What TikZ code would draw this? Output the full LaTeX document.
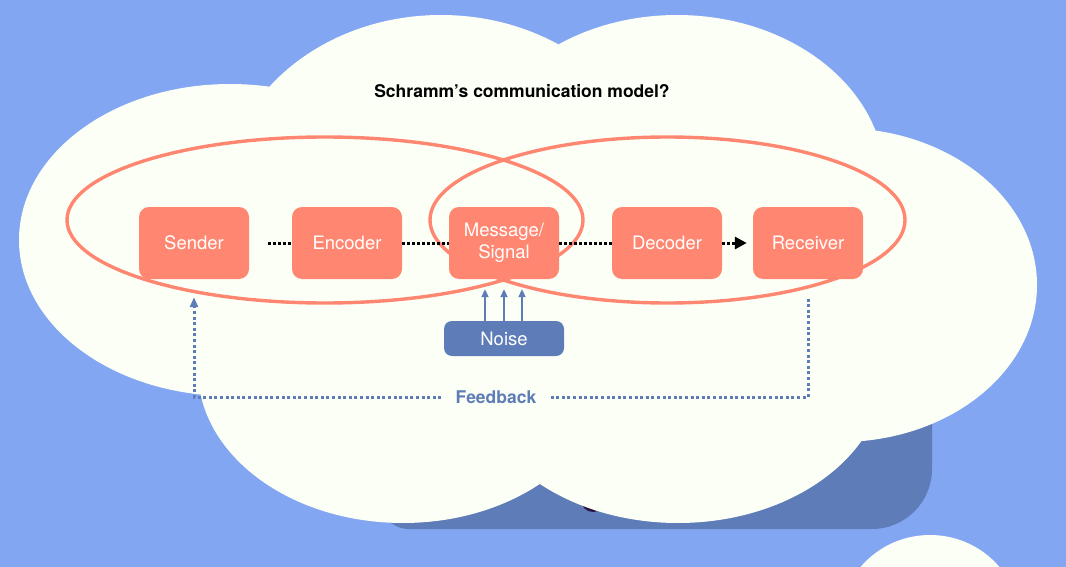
\documentclass[tikz,border=0pt]{standalone}
\usepackage{fontspec}
\setmainfont{TeX Gyre Heros}
\usetikzlibrary{calc,arrows.meta}
\definecolor{bg}{HTML}{82A6F2}
\definecolor{cloudc}{HTML}{FCFFF6}
\definecolor{salmon}{HTML}{FF8670}
\definecolor{navy}{HTML}{5E7CB7}
\definecolor{blobc}{HTML}{2B1442}
\begin{document}
\begin{tikzpicture}[x=1pt,y=-1pt,
  box/.style={fill=salmon, rounded corners=10pt, minimum width=110pt, minimum height=72pt, inner sep=0pt, text=white, font=\fontsize{18.5}{22}\selectfont, align=center},
  noisebox/.style={fill=navy, rounded corners=8pt, minimum width=120pt, minimum height=35pt, inner sep=0pt, text=white, font=\fontsize{18.5}{22}\selectfont},
  flow/.style={line width=3pt, dash pattern=on 3pt off 2pt, black},
  fbline/.style={line width=3pt, dash pattern=on 3pt off 2.6pt, navy},
  noisearrow/.style={line width=2pt, navy, -{Triangle[length=8pt,width=7pt]}},
  ring/.style={draw=salmon, line width=3.4pt}
]
\useasboundingbox (0,0) rectangle (1066,567);
\clip (0,0) rectangle (1066,567);
\fill[bg] (0,0) rectangle (1066,567);
% dark backdrop card
\fill[navy] (379,300) -- (932,300) [rounded corners=60pt] -- (932,529) [rounded corners=30pt] -- (379,529) [sharp corners] -- cycle;
\fill[blobc] (593,500) circle[radius=12pt];
% main cloud
\fill[cloudc]
  (230,240) ellipse[x radius=211pt, y radius=156pt]
  (441,200) ellipse[x radius=217pt, y radius=185pt]
  (677,180) ellipse[x radius=208pt, y radius=165pt]
  (840,285) ellipse[x radius=197pt, y radius=157pt]
  (403,370) ellipse[x radius=205pt, y radius=153pt]
  (678,370) ellipse[x radius=207pt, y radius=153pt];
% small cloud
\fill[cloudc] (930,623) ellipse[x radius=90pt, y radius=88pt];
% title
\node[font=\bfseries\fontsize{17.5}{20}\selectfont, inner sep=0pt] (title) at (522,91) {Schramm’s communication model?};
% rings
\draw[ring] (325,220) ellipse[x radius=258pt, y radius=83pt];
\draw[ring] (667.5,220) ellipse[x radius=237.5pt, y radius=83pt];
% nodes
\node[box] (sender) at (194,243) {Sender};
\node[box] (encoder) at (347,243) {Encoder};
\node[box] (msg) at (504,243) {Message/\\Signal};
\node[box] (decoder) at (667,243) {Decoder};
\node[box] (recv) at (808,243) {Receiver};
\node[noisebox] (noise) at (504,338.5) {Noise};
% flow connectors
\draw[flow] ($(sender.east)+(19,0)$) -- (encoder.west);
\draw[flow] (encoder.east) -- (msg.west);
\draw[flow] (msg.east) -- (decoder.west);
\draw[flow, -{Triangle[length=12pt,width=12pt]}] (decoder.east) -- ($(recv.west)+(-6,0)$);
% noise arrows
\foreach \dx in {-19,0,18}
  \draw[noisearrow] ($(noise.north)+(\dx,0)$) -- ($(msg.south)+(\dx,10)$);
% feedback
\node[font=\bfseries\fontsize{17.5}{20}\selectfont, text=navy, inner sep=0pt] (fb) at (496,397) {Feedback};
\coordinate (fbL) at ($(fb.west)+(-14,0)$);
\coordinate (fbR) at ($(fb.east)+(14,0)$);
\draw[fbline] (fbR) -| ($(recv.south)+(0,18)$);
\draw[fbline, -{Triangle[length=10pt,width=8pt]}] (fbL) -| ($(sender.south)+(0,18)$);
\end{tikzpicture}
\end{document}
